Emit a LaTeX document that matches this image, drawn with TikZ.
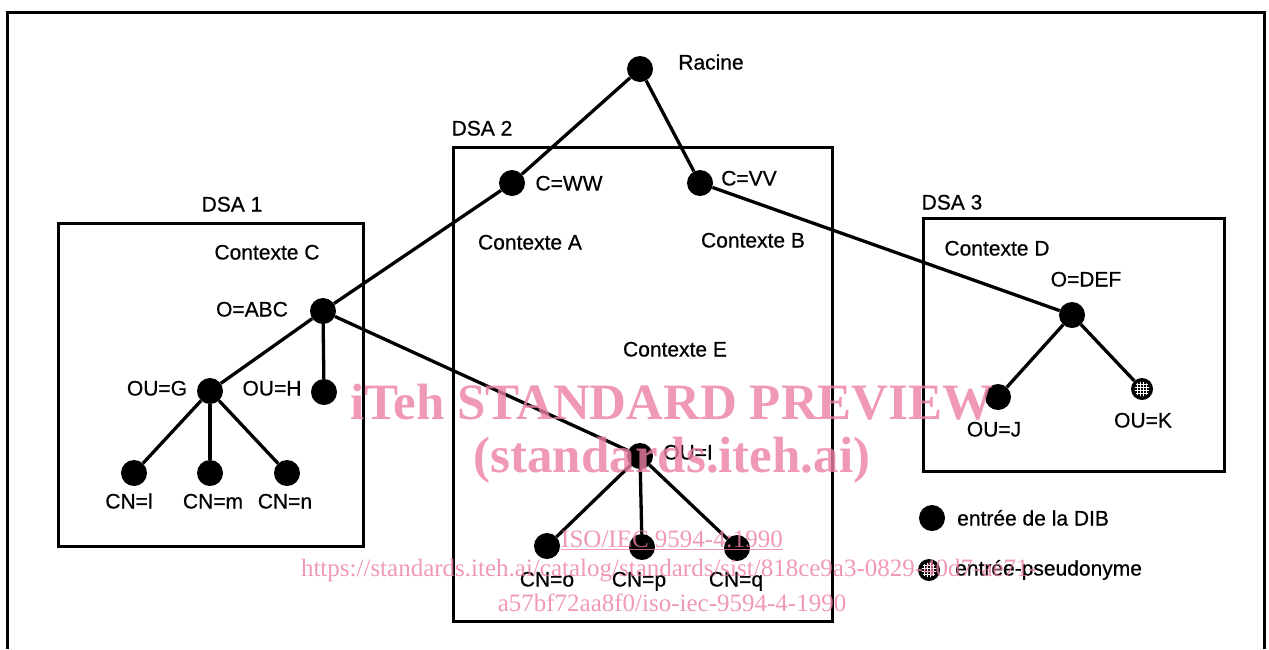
\documentclass[tikz,border=0pt]{standalone}
\usepackage{fontspec}
\setmainfont[FakeBold=0.6,AutoFakeBold=0.6]{Liberation Sans}
\newfontfamily\wmfont{Liberation Serif}
\definecolor{wmpink}{RGB}{236,128,162}
\begin{document}
\begin{tikzpicture}[x=1pt,y=-1pt,
  dot/.style={circle,fill=black,minimum size=26pt,inner sep=0pt},
  pdot/.style={circle,fill=black,minimum size=22pt,inner sep=0pt},
  lab/.style={inner sep=0pt,font=\fontsize{21}{25}\selectfont\bfseries,text height=15pt,text depth=0pt},
  llab/.style={lab,anchor=west},
  edge/.style={line width=3.3pt},
  box/.style={draw,line width=2.7pt},
  frame/.style={line width=3pt},
  wmbig/.style={text=wmpink,opacity=0.8,inner sep=0pt,font=\wmfont\bfseries\fontsize{51}{56}\selectfont},
  wmsmall/.style={text=wmpink,opacity=0.8,inner sep=0pt,font=\wmfont\fontsize{25}{28}\selectfont}]
\useasboundingbox (0,0) rectangle (1269,649);
% outer frame (open at the bottom)
\coordinate (fbl) at (7,649);
\coordinate (ftl) at (7,12);
\coordinate (ftr) at (1264,12);
\coordinate (fbr) at (1264,649);
\draw[frame] (fbl) -- (ftl) -- (ftr) -- (fbr);
% DSA boxes
\node[box,minimum width=305pt,minimum height=323pt,anchor=north west] (dsa1box) at (57,222) {};
\node[box,minimum width=379pt,minimum height=474pt,anchor=north west] (dsa2box) at (452,146) {};
\node[box,minimum width=301pt,minimum height=253pt,anchor=north west] (dsa3box) at (922,217) {};
\node[lab] (dsa1) at (232,204) {DSA 1};
\node[lab] (dsa2) at (482,128) {DSA 2};
\node[lab] (dsa3) at (952,202) {DSA 3};
\node[lab] (ctxA) at (530,242) {Contexte A};
\node[lab] (ctxB) at (753,240) {Contexte B};
\node[lab] (ctxC) at (267,252) {Contexte C};
\node[lab] (ctxD) at (997,248) {Contexte D};
\node[lab] (ctxE) at (675,349) {Contexte E};
% entries
\node[dot] (racine) at (640,69) {};
\node[dot] (cww) at (512,183) {};
\node[dot] (cvv) at (700,183) {};
\node[dot] (oabc) at (323,311) {};
\node[dot] (oug) at (210,391) {};
\node[dot] (ouh) at (324,392) {};
\node[dot] (cnl) at (134,473) {};
\node[dot] (cnm) at (210,473) {};
\node[dot] (cnn) at (287,473) {};
\node[dot] (oui) at (640,456) {};
\node[dot] (cno) at (547,546) {};
\node[dot] (cnp) at (642,547) {};
\node[dot] (cnq) at (737,548) {};
\node[dot] (odef) at (1072,315) {};
\node[dot] (ouj) at (998,397) {};
\node[pdot] (ouk) at (1142,389) {};
% labels
\node[lab] (racinel) at (711,62) {Racine};
\node[lab] (cwwl) at (569,183) {C=WW};
\node[lab] (cvvl) at (749,178) {C=VV};
\node[lab] (oabcl) at (252,309) {O=ABC};
\node[lab] (ougl) at (157,388) {OU=G};
\node[lab] (ouhl) at (272,388) {OU=H};
\node[lab] (cnll) at (129,501) {CN=l};
\node[lab] (cnml) at (213,501) {CN=m};
\node[lab] (cnnl) at (285,501) {CN=n};
\node[lab] (ouil) at (688,452) {OU=I};
\node[lab] (cnol) at (547,579) {CN=o};
\node[lab] (cnpl) at (639,579) {CN=p};
\node[lab] (cnql) at (736,579) {CN=q};
\node[lab] (odefl) at (1086,279) {O=DEF};
\node[lab] (oujl) at (994,429) {OU=J};
\node[lab] (oukl) at (1143,420) {OU=K};
% connectors
\draw[edge] (racine) -- (cww);
\draw[edge] (racine) -- (cvv);
\draw[edge] (cww) -- (oabc);
\draw[edge] (cvv) -- (odef);
\draw[edge] (oabc) -- (oug);
\draw[edge] (oabc) -- (ouh);
\draw[edge] (oabc) -- (oui);
\draw[edge] (oug) -- (cnl);
\draw[edge] (oug) -- (cnm);
\draw[edge] (oug) -- (cnn);
\draw[edge] (oui) -- (cno);
\draw[edge] (oui) -- (cnp);
\draw[edge] (oui) -- (cnq);
\draw[edge] (odef) -- (ouj);
\draw[edge] (odef) -- (ouk);
% legend
\node[dot] (legdot) at (932,518) {};
\node[llab] (legdotl) at (957,518) {entrée de la DIB};
\node[pdot] (legpdot) at (929,570) {};
\node[llab] (legpdotl) at (955,568) {entrée-pseudonyme};
% pseudonym hatching
\foreach \p in {ouk,legpdot}{
  \begin{scope}
    \clip (\p) circle (7.5pt);
    \foreach \d in {-4.5,-1.5,1.5,4.5}{
      \draw[white,line width=0.9pt,shift={(\p)}] (\d,-9) -- (\d,9);
      \draw[white,line width=0.9pt,shift={(\p)}] (-9,\d) -- (9,\d);
    }
  \end{scope}
}
% watermark
\node[wmbig] (wm1) at (672,402) {iTeh STANDARD PREVIEW};
\node[wmbig] (wm2) at (672,460) {(standards.iteh.ai)};
\node[wmsmall] (wm3) at (672,540) {\underline{ISO/IEC 9594-4:1990}};
\node[wmsmall] (wm4) at (669,571) {https://standards.iteh.ai/catalog/standards/sist/818ce9a3-0829-40d7-ae71-};
\node[wmsmall] (wm5) at (672,603) {a57bf72aa8f0/iso-iec-9594-4-1990};
\end{tikzpicture}
\end{document}
